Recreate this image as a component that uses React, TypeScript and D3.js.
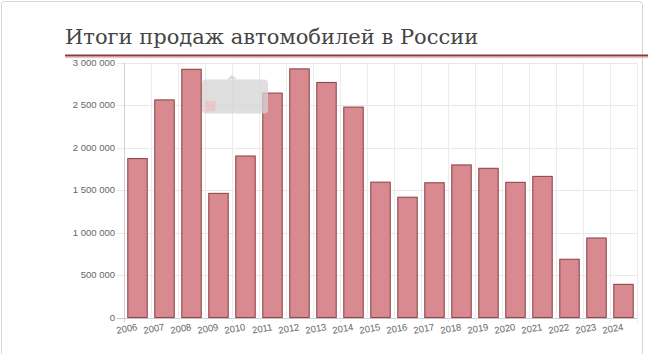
import React, { useEffect, useRef } from 'react';
import * as d3 from 'd3';

const years = ['2006', '2007', '2008', '2009', '2010', '2011', '2012', '2013', '2014', '2015',
  '2016', '2017', '2018', '2019', '2020', '2021', '2022', '2023', '2024'];
const sales = [1870000, 2560000, 2920000, 1460000, 1900000, 2640000, 2925000, 2765000, 2475000, 1592000,
  1415000, 1585000, 1795000, 1755000, 1590000, 1660000, 685000, 935000, 390000];
const yTicks = [0, 500000, 1000000, 1500000, 2000000, 2500000, 3000000];
const title = 'Итоги продаж автомобилей в России';

const App = () => {
  const svgRef = useRef<SVGSVGElement>(null);

  useEffect(() => {
    const svg = d3.select(svgRef.current);
    svg.selectAll('*').remove();

    const width = 648;
    const height = 354;
    const margin = { top: 62.5, right: 11, bottom: 36.5, left: 124 };

    const x = d3.scaleBand()
      .domain(years)
      .range([margin.left, width - margin.right])
      .paddingInner(0)
      .paddingOuter(0);

    const y = d3.scaleLinear()
      .domain([0, 3000000])
      .range([height - margin.bottom, margin.top]);

    svg.append('rect')
      .attr('width', width).attr('height', height)
      .attr('fill', '#fff');

    // outer frame of the screenshot
    svg.append('rect')
      .attr('x', 1.5).attr('y', 1.5)
      .attr('width', 641).attr('height', 360)
      .attr('rx', 3)
      .attr('fill', 'none')
      .attr('stroke', '#d6d6d6');

    svg.append('text')
      .attr('x', 65).attr('y', 44)
      .attr('font-family', '"DejaVu Serif", serif')
      .attr('font-size', 21)
      .attr('fill', '#454545')
      .text(title);

    const fmt = (v: number) => d3.format(',')(v).replace(/,/g, ' ');

    // horizontal grid
    const gy = svg.append('g');
    gy.selectAll('line')
      .data(yTicks)
      .join('line')
      .attr('x1', margin.left - 7)
      .attr('x2', width - margin.right)
      .attr('y1', d => Math.round(y(d)) + 0.5)
      .attr('y2', d => Math.round(y(d)) + 0.5)
      .attr('stroke', d => (d === 0 ? '#c9c9c9' : '#e8e8e8'));

    gy.selectAll('text')
      .data(yTicks)
      .join('text')
      .attr('x', margin.left - 9)
      .attr('y', d => y(d))
      .attr('dy', '0.35em')
      .attr('text-anchor', 'end')
      .attr('font-family', '"Liberation Sans", Arial, sans-serif')
      .attr('font-size', 9.5)
      .attr('fill', '#666')
      .text(d => fmt(d));

    // vertical grid at category boundaries
    const bounds = years.map(d => x(d) as number).concat([width - margin.right]);
    svg.append('g')
      .selectAll('line')
      .data(bounds)
      .join('line')
      .attr('x1', d => Math.round(d) + 0.5)
      .attr('x2', d => Math.round(d) + 0.5)
      .attr('y1', margin.top)
      .attr('y2', height - margin.bottom + 5)
      .attr('stroke', (d, i) => (i === 0 ? '#d0d0d0' : '#ececec'));

    const bw = x.bandwidth() * 0.72;
    svg.append('g')
      .selectAll('rect')
      .data(years)
      .join('rect')
      .attr('x', d => (x(d) as number) + (x.bandwidth() - bw) / 2)
      .attr('width', bw)
      .attr('y', (d, i) => y(sales[i]))
      .attr('height', (d, i) => y(0) - y(sales[i]))
      .attr('fill', '#d98a90')
      .attr('stroke', '#91484d')
      .attr('stroke-width', 1.1);

    svg.append('g')
      .selectAll('text')
      .data(years)
      .join('text')
      .attr('transform', d => `translate(${(x(d) as number) + x.bandwidth() / 2 - 1},${height - margin.bottom + 5}) rotate(-10)`)
      .attr('dy', '0.8em')
      .attr('text-anchor', 'end')
      .attr('font-family', '"Liberation Sans", Arial, sans-serif')
      .attr('font-size', 9.5)
      .attr('fill', '#666')
      .text(d => d);

    // faded hover tooltip left in the picture
    const tx = x('2010') as number;
    const tip = svg.append('g').attr('opacity', 0.75);
    tip.append('rect')
      .attr('x', tx - 30).attr('y', y(2800000))
      .attr('width', 66).attr('height', y(2400000) - y(2800000))
      .attr('rx', 4)
      .attr('fill', '#d4d4d4');
    tip.append('path')
      .attr('d', d3.line()([[tx - 5, y(2800000)], [tx, y(2860000)], [tx + 5, y(2800000)]]))
      .attr('fill', '#d4d4d4');
    tip.append('rect')
      .attr('x', tx - 27).attr('y', y(2550000))
      .attr('width', 11).attr('height', 11)
      .attr('fill', '#e0b6b9')
      .attr('stroke', '#e8c8ca');

    // title rule
    svg.append('line')
      .attr('x1', 65).attr('x2', width)
      .attr('y1', 55.5).attr('y2', 55.5)
      .attr('stroke', '#8c3b3d')
      .attr('stroke-width', 2.2);
    svg.append('line')
      .attr('x1', 65).attr('x2', width)
      .attr('y1', 57.6).attr('y2', 57.6)
      .attr('stroke', '#ebc4c4')
      .attr('stroke-width', 1.4);
  }, []);

  return (
    <svg ref={svgRef} width={648} height={354}
      style={{ position: 'absolute', left: 0, top: 0, display: 'block' }} />
  );
};

export default App;
